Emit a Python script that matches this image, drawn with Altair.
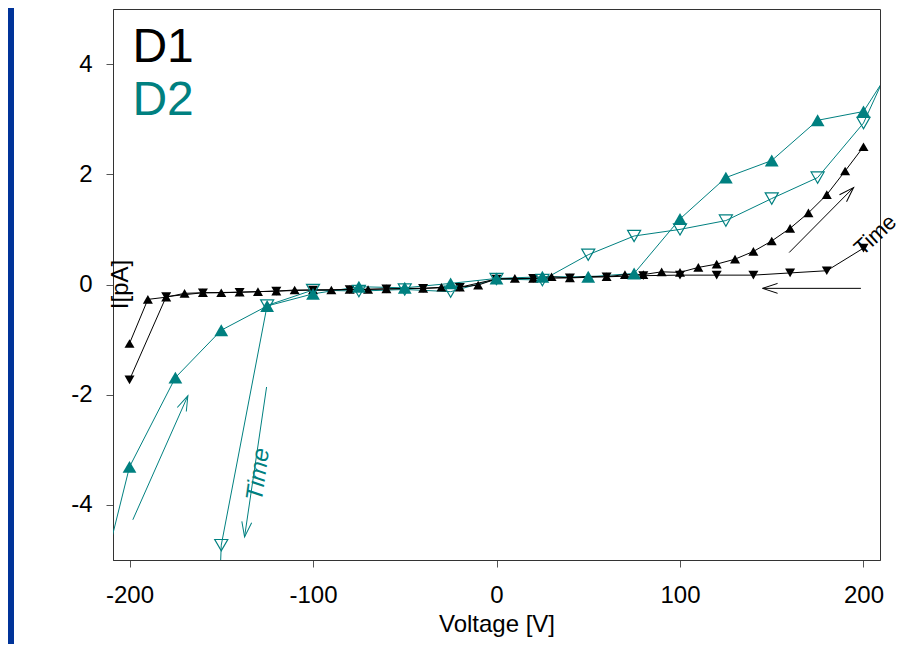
import altair as alt
import pandas as pd
import numpy as np

# ---------------- data ----------------
# D1 (black): up-sweep (filled up-triangles) and down-sweep (filled down-triangles)
d1_up_v = [-200, -190, -180, -170, -160, -150, -140, -130, -120, -110, -100,
           -90, -80, -70, -60, -50, -40, -30, -20, -10, 0,
           10, 20, 30, 40, 50, 60, 70, 80, 90, 100,
           110, 120, 130, 140, 150, 160, 170, 180, 190, 200]
d1_up_i = [-1.07, -0.27, -0.23, -0.16, -0.15, -0.15, -0.14, -0.13, -0.12, -0.10, -0.10,
           -0.10, -0.09, -0.09, -0.08, -0.07, -0.07, -0.05, -0.05, -0.01, 0.10,
           0.11, 0.11, 0.14, 0.12, 0.15, 0.14, 0.18, 0.18, 0.23, 0.22,
           0.31, 0.37, 0.46, 0.60, 0.79, 1.02, 1.30, 1.63, 2.06, 2.50]
d1_dn_v = [200, 180, 160, 140, 120, 100, 80, 60, 40, 20, 0,
           -20, -40, -60, -80, -100, -120, -140, -160, -180, -200]
d1_dn_i = [0.66, 0.25, 0.21, 0.17, 0.17, 0.17, 0.16, 0.14, 0.12, 0.11, 0.10,
           -0.05, -0.07, -0.08, -0.09, -0.10, -0.12, -0.14, -0.15, -0.22, -1.73]

# D2 (teal): up-sweep (filled up-triangles) and down-sweep (open down-triangles)
d2_up_v = [-210, -200, -175, -150, -125, -100, -75, -50, -25, 0,
           25, 50, 75, 100, 125, 150, 175, 200, 210]
d2_up_i = [-4.65, -3.31, -1.69, -0.83, -0.39, -0.17, -0.04, -0.06, 0.02, 0.11,
           0.14, 0.14, 0.20, 1.19, 1.94, 2.25, 2.98, 3.14, 3.66]
d2_up_marker = [False, True, True, True, True, True, True, True, True, True,
                True, True, True, True, True, True, True, True, False]
d2_dn_v = [210, 200, 175, 150, 125, 100, 75, 50, 25, 0,
           -25, -50, -75, -100, -125, -150, -151]
d2_dn_i = [3.66, 2.93, 1.94, 1.56, 1.16, 1.00, 0.88, 0.54, 0.08, 0.10,
           -0.13, -0.09, -0.12, -0.10, -0.38, -4.73, -5.60]
d2_dn_marker = [False, True, True, True, True, True, True, True, True, True,
                True, True, True, True, True, True, False]

# "Time" arrows (start -> end, arrowhead at end)
arrow_series = ["D1", "D1", "D2", "D2"]
arrow_v0 = [159.5, 198.6, -198.2, -125.3]
arrow_i0 = [0.58, -0.07, -4.27, -1.86]
arrow_v1 = [194.6, 145.0, -168.2, -137.3]
arrow_i1 = [1.76, -0.07, -2.02, -4.58]

# text annotations
legend_text = ["D1", "D2"]
legend_v = [-198.4, -198.4]
legend_i = [4.04, 3.07]
time_text = ["Time", "Time"]
time_series = ["D1", "D2"]
time_v = [206.5, -129.7]
time_i = [0.90, -3.45]
time_angle = [317, 278]

x_ticks = [-200, -100, 0, 100, 200]
y_ticks = [-4, -2, 0, 2, 4]

# ---------------- layout ----------------
W, H = 767, 551
PAD = {"left": 105, "top": 1, "right": 22, "bottom": 84}
X_DOM = [-209, 209]
Y_DOM = [-5, 5]
BLACK = "#000000"
TEAL = "#008080"
BLUE = "#003399"
FONT = "Liberation Sans"

color_scale = alt.Scale(domain=["D1", "D2"], range=[BLACK, TEAL])
xs = alt.Scale(domain=X_DOM, nice=False, zero=False)
ys = alt.Scale(domain=Y_DOM, nice=False, zero=False)

def series_df(v, i, name, sweep, marker=None):
    df = pd.DataFrame({"V": v, "I": i})
    df["series"] = name
    df["sweep"] = sweep
    df["order"] = np.arange(len(df))
    df["marker"] = marker if marker is not None else [True] * len(df)
    return df

d1u = series_df(d1_up_v, d1_up_i, "D1", "D1 up")
d1d = series_df(d1_dn_v, d1_dn_i, "D1", "D1 down")
d2u = series_df(d2_up_v, d2_up_i, "D2", "D2 up", d2_up_marker)
d2d = series_df(d2_dn_v, d2_dn_i, "D2", "D2 down", d2_dn_marker)

x_axis = alt.Axis(values=x_ticks, title="Voltage [V]", grid=False, tickSize=7,
                  labelFontSize=24, titleFontSize=24, labelPadding=16,
                  labelExpr="'' + datum.value",
                  titleFontWeight="normal", titlePadding=5,
                  domainColor="#333333", tickColor="#555555",
                  labelColor="black", titleColor="black")
y_axis = alt.Axis(values=y_ticks, title="I[pA]", grid=False, tickSize=7,
                  labelFontSize=24, titleFontSize=24, labelPadding=14,
                  labelExpr="'' + datum.value",
                  titleFontWeight="normal", titleAngle=270, titleX=14, titleY=275,
                  titleAlign="center", titleBaseline="alphabetic",
                  domainColor="#333333", tickColor="#555555",
                  labelColor="black", titleColor="black")

X = alt.X("V:Q", scale=xs, axis=x_axis)
Y = alt.Y("I:Q", scale=ys, axis=y_axis)
C = alt.Color("series:N", scale=color_scale, legend=None)

# blue slide border strip on the left (outside the plot area)
one = pd.DataFrame({"k": [0]})
border = alt.Chart(one).mark_rect(color=BLUE).encode(
    x=alt.value(-PAD["left"]), x2=alt.value(-PAD["left"] + 6),
    y=alt.value(-PAD["top"]), y2=alt.value(H + PAD["bottom"]))

def line_layer(df, color):
    return alt.Chart(df).mark_line(color=color, strokeWidth=1, clip=True).encode(
        x=X, y=Y, order="order:Q")

lines = (line_layer(d2u, TEAL) + line_layer(d2d, TEAL)
         + line_layer(d1u, BLACK) + line_layer(d1d, BLACK))

pts_d1u = alt.Chart(d1u).mark_point(shape="triangle-up", filled=True, size=100,
                                    opacity=1, color=BLACK).encode(x=X, y=Y)
pts_d1d = alt.Chart(d1d).mark_point(shape="triangle-down", filled=True, size=100,
                                    opacity=1, color=BLACK).encode(x=X, y=Y)
pts_d2u = alt.Chart(d2u).transform_filter("datum.marker").mark_point(
    shape="triangle-up", filled=True, size=190, opacity=1, color=TEAL,
    clip=True).encode(x=X, y=Y)
pts_d2d = alt.Chart(d2d).transform_filter("datum.marker").mark_point(
    shape="triangle-down", filled=False, size=170, opacity=1, color=TEAL,
    strokeWidth=1.2, clip=True).encode(x=X, y=Y)

# arrows
sx = W / (X_DOM[1] - X_DOM[0])
sy = H / (Y_DOM[1] - Y_DOM[0])
arr = pd.DataFrame({"series": arrow_series, "V": arrow_v0, "I": arrow_i0,
                    "V2": arrow_v1, "I2": arrow_i1})
dxp = (arr["V2"] - arr["V"]) * sx
dyp = -(arr["I2"] - arr["I"]) * sy
arr["ang"] = np.mod(np.degrees(np.arctan2(dxp, -dyp)), 360)

shafts = alt.Chart(arr).mark_rule(strokeWidth=1).encode(
    x=alt.X("V:Q", scale=xs), y=alt.Y("I:Q", scale=ys),
    x2="V2:Q", y2="I2:Q", color=C)
heads = alt.Chart(arr).mark_point(shape="M -0.33 1 L 0 0 L 0.33 1", filled=False,
                                  size=900, opacity=1, strokeWidth=1).encode(
    x=alt.X("V2:Q", scale=xs), y=alt.Y("I2:Q", scale=ys),
    angle=alt.Angle("ang:Q", scale=None), color=C)

# texts
leg = pd.DataFrame({"t": legend_text, "V": legend_v, "I": legend_i, "series": ["D1", "D2"]})
legend = alt.Chart(leg).mark_text(fontSize=48, align="left", baseline="alphabetic",
                                  font=FONT).encode(
    x=alt.X("V:Q", scale=xs), y=alt.Y("I:Q", scale=ys), text="t:N", color=C)

tdf = pd.DataFrame({"t": time_text, "V": time_v, "I": time_i, "ang": time_angle,
                    "series": time_series})
time1 = alt.Chart(tdf.iloc[[0]]).mark_text(fontSize=22, align="center", baseline="middle",
                                          font=FONT).encode(
    x=alt.X("V:Q", scale=xs), y=alt.Y("I:Q", scale=ys), text="t:N",
    angle=alt.Angle("ang:Q", scale=None), color=C)
time2 = alt.Chart(tdf.iloc[[1]]).mark_text(fontSize=24, align="center", baseline="middle",
                                          font=FONT, fontStyle="italic").encode(
    x=alt.X("V:Q", scale=xs), y=alt.Y("I:Q", scale=ys), text="t:N",
    angle=alt.Angle("ang:Q", scale=None), color=C)

chart = alt.layer(
    border, lines, pts_d1u, pts_d1d, pts_d2u, pts_d2d,
    shafts, heads, legend, time1, time2
).properties(
    width=W, height=H,
    autosize=alt.AutoSizeParams(type="none"),
    padding=PAD,
    background="white",
).configure(font=FONT).configure_view(stroke="#333333", strokeWidth=1)

chart.save("out.html", embed_options={"renderer": "svg", "actions": False})
